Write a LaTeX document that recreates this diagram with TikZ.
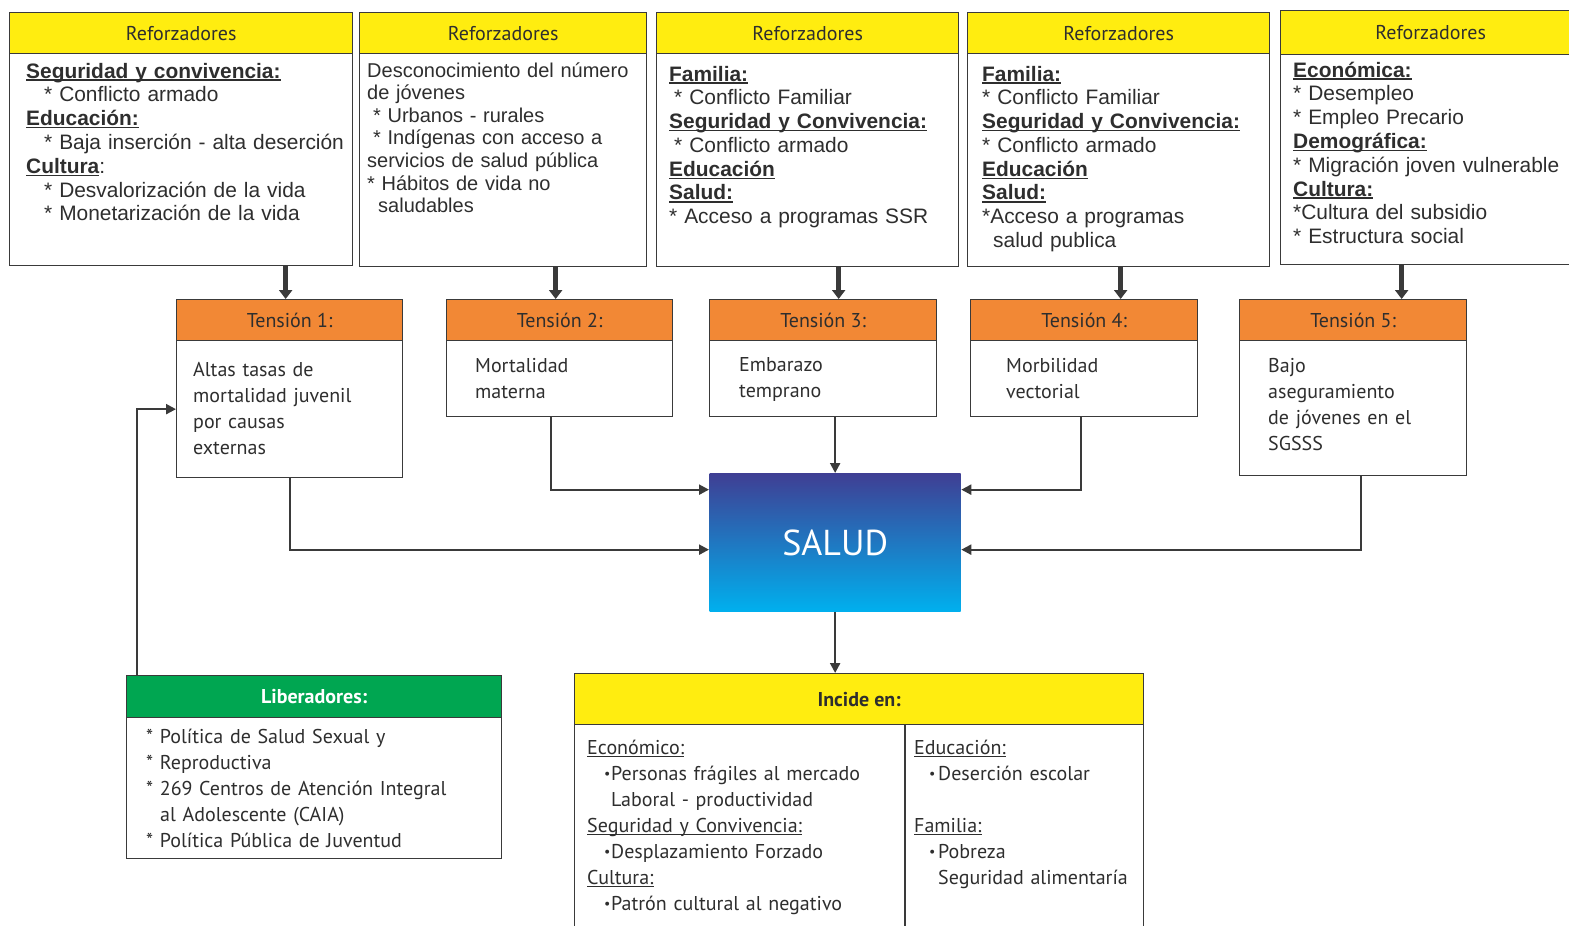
\documentclass[tikz,border=0pt]{standalone}
\usepackage{fontspec}
\setmainfont{PT Sans}
\newfontfamily\refsans{Liberation Sans}
\usetikzlibrary{arrows.meta,calc}

\definecolor{refyellow}{HTML}{FFED10}
\definecolor{tensorange}{HTML}{F28835}
\definecolor{libgreen}{HTML}{00A651}
\definecolor{saludtop}{HTML}{3F3F94}
\definecolor{saludbottom}{HTML}{00B0EE}
\definecolor{boxline}{HTML}{3A3A3A}
\definecolor{txtgray}{HTML}{2E2E2E}

\newsavebox\ulbox
\newcommand{\ulword}[2][1.3pt]{\leavevmode\sbox\ulbox{#2}\rlap{\rule[-2.6pt]{\wd\ulbox}{#1}}\usebox\ulbox}
\newcommand{\smallbul}{\raisebox{1.5pt}{\fontsize{14}{14}\selectfont\textbullet}}

\tikzset{
  boxframe/.style={draw=boxline, line width=1.3pt, anchor=north west, inner sep=0pt},
  refhead/.style={boxframe, fill=refyellow, text=txtgray, font=\fontsize{20}{24}\selectfont},
  tenhead/.style={boxframe, fill=tensorange, text=txtgray, font=\fontsize{20}{24}\selectfont},
  plainbox/.style={boxframe, fill=white},
  reftext/.style={anchor=base west, inner sep=0pt, align=left, text=txtgray,
    font=\refsans\fontsize{20.9}{23.8}\selectfont},
  tentext/.style={anchor=base west, inner sep=0pt, align=left, text=txtgray,
    font=\fontsize{20}{26}\selectfont},
  conn/.style={draw=boxline, line width=2.2pt, -{Triangle[length=10pt,width=10pt]}},
  refarrow/.style={draw=boxline, line width=5pt, -{Triangle[length=9pt,width=13pt]}}
}

\begin{document}
\begin{tikzpicture}[x=1pt,y=-1pt]
\useasboundingbox[fill=white] (0,0) rectangle (1569,926);
\clip (0,0) rectangle (1569,926);

% reforzadores
\node[refhead, minimum width=343pt, minimum height=41pt] (ref1h) at (9,12) {Reforzadores};
\node[plainbox, minimum width=343pt, minimum height=212pt] (ref1) at (9,53) {};
\node[reftext, text width=324pt] (ref1t) at (26,78) {%
  \ulword{\textbf{Seguridad y convivencia:}}\\
  \hspace*{18pt}{*} Conflicto armado\\
  \ulword{\textbf{Educación:}}\\
  \hspace*{18pt}{*} Baja inserción - alta deserción\\
  \ulword{\textbf{Cultura}}:\\
  \hspace*{18pt}{*} Desvalorización de la vida\\
  \hspace*{18pt}{*} Monetarización de la vida};

\node[refhead, minimum width=287pt, minimum height=41pt] (ref2h) at (359,12) {Reforzadores};
\node[plainbox, minimum width=287pt, minimum height=213pt] (ref2) at (359,53) {};
\node[reftext, text width=276pt, font=\refsans\fontsize{20}{22.6}\selectfont] (ref2t) at (367,77) {%
  Desconocimiento del número\\
  de jóvenes\\
  \hspace*{6pt}{*} Urbanos - rurales\\
  \hspace*{6pt}{*} Indígenas con acceso a\\
  servicios de salud pública\\
  {*} Hábitos de vida no\\
  \hspace*{11pt}saludables};

\node[refhead, minimum width=302pt, minimum height=41pt] (ref3h) at (656,12) {Reforzadores};
\node[plainbox, minimum width=302pt, minimum height=213pt] (ref3) at (656,53) {};
\node[reftext, text width=286pt] (ref3t) at (669,81) {%
  \ulword{\textbf{Familia:}}\\
  \hspace*{5pt}{*} Conflicto Familiar\\
  \ulword{\textbf{Seguridad y Convivencia:}}\\
  \hspace*{5pt}{*} Conflicto armado\\
  \ulword{\textbf{Educación}}\\
  \ulword{\textbf{Salud:}}\\
  {*} Acceso a programas SSR};

\node[refhead, minimum width=302pt, minimum height=41pt] (ref4h) at (967,12) {Reforzadores};
\node[plainbox, minimum width=302pt, minimum height=213pt] (ref4) at (967,53) {};
\node[reftext, text width=284pt] (ref4t) at (982,81) {%
  \ulword{\textbf{Familia:}}\\
  {*} Conflicto Familiar\\
  \ulword{\textbf{Seguridad y Convivencia:}}\\
  {*} Conflicto armado\\
  \ulword{\textbf{Educación}}\\
  \ulword{\textbf{Salud:}}\\
  {*}Acceso a programas\\
  \hspace*{11pt}salud publica};

\node[refhead, minimum width=300pt, minimum height=44pt] (ref5h) at (1280,10) {Reforzadores};
\node[plainbox, minimum width=300pt, minimum height=210pt] (ref5) at (1280,54) {};
\node[reftext, text width=276pt] (ref5t) at (1293,77) {%
  \ulword{\textbf{Económica:}}\\
  {*} Desempleo\\
  {*} Empleo Precario\\
  \ulword{\textbf{Demográfica:}}\\
  {*} Migración joven vulnerable\\
  \ulword{\textbf{Cultura:}}\\
  {*}Cultura del subsidio\\
  {*} Estructura social};

% tensiones
\node[tenhead, minimum width=226pt, minimum height=41pt] (t1h) at (176,299) {Tensión 1:};
\node[plainbox, minimum width=226pt, minimum height=137pt] (t1b) at (176,340) {};
\node[tentext, text width=200pt] (t1t) at (193,376) {Altas tasas de\\ mortalidad juvenil\\ por causas\\ externas};

\node[tenhead, minimum width=226pt, minimum height=41pt] (t2h) at (446,299) {Tensión 2:};
\node[plainbox, minimum width=226pt, minimum height=76pt] (t2b) at (446,340) {};
\node[tentext, text width=185pt] (t2t) at (475,372) {Mortalidad\\ materna};

\node[tenhead, minimum width=227pt, minimum height=41pt] (t3h) at (709,299) {Tensión 3:};
\node[plainbox, minimum width=227pt, minimum height=76pt] (t3b) at (709,340) {};
\node[tentext, text width=185pt] (t3t) at (739,371) {Embarazo\\ temprano};

\node[tenhead, minimum width=227pt, minimum height=41pt] (t4h) at (970,299) {Tensión 4:};
\node[plainbox, minimum width=227pt, minimum height=76pt] (t4b) at (970,340) {};
\node[tentext, text width=180pt] (t4t) at (1006,372) {Morbilidad\\ vectorial};

\node[tenhead, minimum width=227pt, minimum height=41pt] (t5h) at (1239,299) {Tensión 5:};
\node[plainbox, minimum width=227pt, minimum height=135pt] (t5b) at (1239,340) {};
\node[tentext, text width=190pt] (t5t) at (1268,372) {Bajo\\ aseguramiento\\ de jóvenes en el\\ SGSSS};

% salud
\node[boxframe, draw=none, top color=saludtop, bottom color=saludbottom, minimum width=251pt, minimum height=138pt,
  text=white, font=\fontsize{36}{40}\selectfont] (salud) at (709,473) {SALUD};

% liberadores
\node[boxframe, fill=libgreen, minimum width=375pt, minimum height=42pt, text=white,
  font=\bfseries\fontsize{20}{24}\selectfont] (libh) at (126,675) {Liberadores:};
\node[plainbox, minimum width=375pt, minimum height=141pt] (lib) at (126,717) {};
\node[tentext, text width=350pt] (libt) at (146,743) {%
  {*} Política de Salud Sexual y\\
  {*} Reproductiva\\
  {*} 269 Centros de Atención Integral\\
  \hspace*{14pt}al Adolescente (CAIA)\\
  {*} Política Pública de Juventud};

% incide en
\node[boxframe, fill=refyellow, minimum width=569pt, minimum height=51pt, text=txtgray,
  font=\bfseries\fontsize{20}{24}\selectfont] (inch) at (574,673) {Incide en:};
\node[plainbox, minimum width=569pt, minimum height=230pt] (inc) at (574,724) {};
\draw[draw=boxline, line width=1.3pt] ([xshift=331pt]inc.north west) -- ([xshift=331pt]inc.south west);
\node[tentext, text width=310pt] (incl) at (587,754) {%
  \ulword[0.9pt]{Económico:}\\
  \hspace*{17pt}\makebox[7pt][l]{\smallbul}Personas frágiles al mercado\\
  \hspace*{24pt}Laboral - productividad\\
  \ulword[0.9pt]{Seguridad y Convivencia:}\\
  \hspace*{17pt}\makebox[7pt][l]{\smallbul}Desplazamiento Forzado\\
  \ulword[0.9pt]{Cultura:}\\
  \hspace*{17pt}\makebox[7pt][l]{\smallbul}Patrón cultural al negativo};
\node[tentext, text width=225pt] (incr) at (914,754) {%
  \ulword[0.9pt]{Educación:}\\
  \hspace*{15pt}\makebox[9pt][l]{\smallbul}Deserción escolar\\
  \mbox{}\\
  \ulword[0.9pt]{Familia:}\\
  \hspace*{15pt}\makebox[9pt][l]{\smallbul}Pobreza\\
  \hspace*{24pt}Seguridad alimentaría};

% flechas
\draw[refarrow] let \p1=(t1h.north), \p2=(ref1.south) in (\x1-4pt,\y2) -- (\x1-4pt,\y1);
\draw[refarrow] let \p1=(t2h.north), \p2=(ref2.south) in (\x1-4pt,\y2) -- (\x1-4pt,\y1);
\draw[refarrow] let \p1=(t3h.north), \p2=(ref3.south) in (\x1+15.5pt,\y2) -- (\x1+15.5pt,\y1);
\draw[refarrow] let \p1=(t4h.north), \p2=(ref4.south) in (\x1+36.5pt,\y2) -- (\x1+36.5pt,\y1);
\draw[refarrow] let \p1=(t5h.north), \p2=(ref5.south) in (\x1+48.5pt,\y2) -- (\x1+48.5pt,\y1);

\draw[conn] (t1b.south) |- ([yshift=-7pt]salud.west);
\draw[conn] ([xshift=-9pt]t2b.south) |- ([yshift=53pt]salud.west);
\draw[conn] (t3b.south -| salud.north) -- (salud.north);
\draw[conn] ([xshift=-3pt]t4b.south) |- ([yshift=53pt]salud.east);
\draw[conn] ([xshift=8pt]t5b.south) |- ([yshift=-7pt]salud.east);
\draw[conn] (salud.south) -- (salud.south |- inch.north);
\draw[conn] ([xshift=11pt]libh.north west) |- (t1b.west);
\end{tikzpicture}
\end{document}
